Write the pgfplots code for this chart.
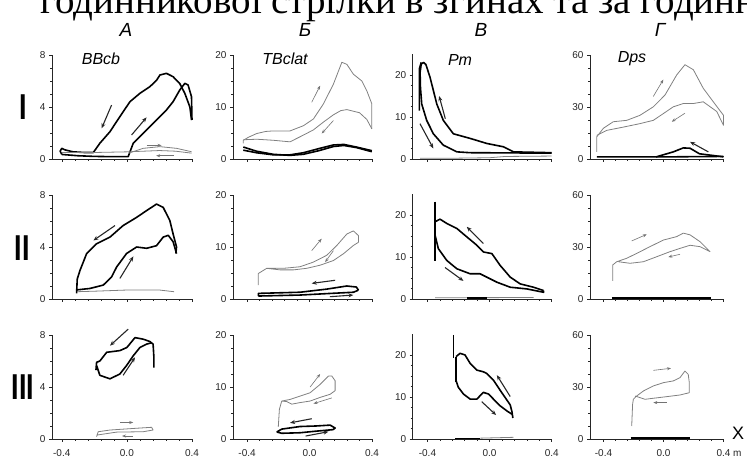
\documentclass[border=0pt]{standalone}
\usepackage{fontspec}
\setmainfont{Liberation Sans}
\newfontfamily\seriffont{Liberation Serif}
\usepackage{pgfplots}
\pgfplotsset{compat=1.18}
\usetikzlibrary{arrows.meta}
\pgfplotsset{
 panel/.style={
   scale only axis, anchor=south west,
   axis lines=left, axis line style={-, line width=0.7pt, black!85},
   tick align=outside, major tick length=3pt, minor tick length=2pt,
   every tick/.style={black!85, line width=0.5pt},
   xmax=0.4, xtick={-0.4,0,0.4}, minor x tick num=4,
   minor y tick num=3, ymin=0,
   ticklabel style={font=\fontsize{10}{10}\selectfont, text=black!85},
   xticklabel style={yshift=-4pt},
   /pgf/number format/assume math mode=true,
   xticklabel={\pgfmathprintnumber[fixed,fixed zerofill,precision=1]{\tick}},
   clip=false, height=104pt,
 },
 noxlab/.style={xticklabels={}},
 colA/.style={xmin=-0.46, width=140pt, ymax=8, ytick={0,4,8}},
 colB/.style={xmin=-0.49, width=139pt, ymax=20, ytick={0,10,20}},
 colC/.style={xmin=-0.495, width=139pt, ymax=25, ytick={0,10,20}, height=105pt},
 colD/.style={xmin=-0.49, width=133.5pt, ymax=60, ytick={0,30,60}},
 blk/.style={black, line width=1.6pt, no markers, line join=round},
 gry/.style={black!50, line width=0.8pt, no markers, line join=round},
 barr/.style={black!85, line width=1.1pt, -{Stealth[length=5pt,width=4pt]}, no markers},
 garr/.style={black!55, line width=0.6pt, -{Stealth[length=4pt,width=3pt]}, no markers},
}
\begin{document}
\begin{tikzpicture}
\path[use as bounding box] (0,0) rectangle (747pt,460pt);
% top text (cut)
\node[anchor=base west, inner sep=0pt, font=\seriffont\fontsize{39}{39}\selectfont] at (40pt,446pt) {годинникової стрілки в згинах та за годинниковою};
% column headers
\foreach \t/\x in {А/126,Б/305,В/481,Г/660}{
 \node[font=\fontsize{19}{19}\selectfont\itshape] at (\x pt,430pt) {\t};}
% row labels
\node[font=\fontsize{36}{36}\selectfont\bfseries, xscale=0.75] at (23pt,353pt) {I};
\node[font=\fontsize{36}{36}\selectfont\bfseries, xscale=0.75] at (22pt,212pt) {II};
\node[font=\fontsize{36}{36}\selectfont\bfseries, xscale=0.75] at (23pt,73pt) {III};
% panel names
\node[font=\fontsize{16}{16}\selectfont\itshape] at (101pt,401pt) {BBcb};
\node[font=\fontsize{16}{16}\selectfont\itshape] at (285pt,401pt) {TBclat};
\node[font=\fontsize{16}{16}\selectfont\itshape] at (460pt,400pt) {Pm};
\node[font=\fontsize{16}{16}\selectfont\itshape] at (632pt,401pt) {Dps};
\node[font=\fontsize{18}{18}\selectfont] at (738pt,27pt) {X};
\node[anchor=base west, inner sep=0pt, font=\fontsize{10}{10}\selectfont, text=black!85] at (733pt,3.5pt) {m};

% ===== Row I =====
\begin{axis}[panel, colA, noxlab, at={(52pt,301pt)}]
\addplot[blk] coordinates {(0.397,3.0) (0.387,4.0) (0.356,5.05) (0.325,5.8) (0.284,6.33) (0.243,6.59) (0.203,6.46) (0.182,6.05) (0.141,5.56) (0.08,5.05) (0.019,4.41) (-0.043,3.26) (-0.104,2.1) (-0.166,1.21) (-0.206,0.5) (-0.26,0.5) (-0.33,0.55) (-0.38,0.7) (-0.40,0.82) (-0.41,0.6) (-0.40,0.35)};
\addplot[blk] coordinates {(-0.40,0.35) (-0.3,0.25) (-0.2,0.2) (-0.1,0.18) (0.008,0.18) (0.039,1.21) (0.08,1.72) (0.121,2.23) (0.161,2.74) (0.203,3.26) (0.243,3.77) (0.284,4.41) (0.325,5.31) (0.356,5.82) (0.376,5.69) (0.397,4.79) (0.40,3.0)};
\addplot[gry] coordinates {(-0.40,0.5) (-0.2,0.5) (0.0,0.55) (0.2,0.65) (0.3,0.6) (0.397,0.45)};
\addplot[gry] coordinates {(0.008,0.44) (0.1,0.82) (0.203,0.95) (0.305,0.82) (0.397,0.56)};
\addplot[barr] coordinates {(-0.094,4.15) (-0.155,2.36)};
\addplot[barr] coordinates {(0.029,1.85) (0.121,3.2)};
\addplot[garr] coordinates {(0.121,1.05) (0.213,1.05)};
\addplot[garr] coordinates {(0.29,0.25) (0.18,0.25)};
\end{axis}

\begin{axis}[panel, colB, noxlab, at={(233pt,301pt)}]
\addplot[gry] coordinates {(-0.424,3.0) (-0.424,3.6) (-0.39,4.2) (-0.338,4.9) (-0.28,5.3) (-0.232,5.4) (-0.125,5.4) (-0.039,6.4) (0.025,7.7) (0.089,10.6) (0.153,14.4) (0.207,18.6) (0.239,18.2) (0.281,16.3) (0.335,15.0) (0.367,13.1) (0.399,10.6) (0.399,5.8)};
\addplot[gry] coordinates {(0.399,5.8) (0.367,7.6) (0.32,8.9) (0.239,9.5) (0.2,9.3) (0.153,8.5) (0.089,7.1) (0.025,5.6) (-0.039,4.6) (-0.125,3.3) (-0.232,3.6) (-0.338,3.8) (-0.424,3.7)};
\addplot[blk] coordinates {(-0.424,2.3) (-0.34,1.5) (-0.232,0.9) (-0.125,0.7) (-0.04,0.9) (0.06,1.6) (0.153,2.4) (0.22,2.6) (0.3,2.2) (0.399,1.4)};
\addplot[blk] coordinates {(-0.424,1.7) (-0.34,1.2) (-0.232,0.8) (-0.125,0.8) (-0.04,1.2) (0.06,2.0) (0.153,2.7) (0.22,2.8) (0.3,2.3) (0.399,1.6)};
\addplot[garr] coordinates {(0.014,10.9) (0.068,14.1)};
\addplot[garr] coordinates {(0.153,7.4) (0.078,4.9)};
\end{axis}

\begin{axis}[panel, colC, noxlab, at={(412.7pt,301pt)}]
\addplot[gry] coordinates {(-0.448,0.2) (-0.2,0.2) (0.0,0.3) (0.1,0.6) (0.4,0.7)};
\addplot[blk] coordinates {(0.40,1.5) (0.154,1.7) (0.09,2.9) (-0.018,3.7) (-0.125,4.9) (-0.233,6.0) (-0.298,9.2) (-0.34,13.1) (-0.383,19.4) (-0.41,22.5) (-0.425,23.0) (-0.44,22.6) (-0.448,20.5)};
\addplot[blk] coordinates {(-0.448,21.5) (-0.445,17) (-0.437,13.1) (-0.405,9.2) (-0.362,6.0) (-0.298,3.3) (-0.211,1.7) (-0.125,1.5) (0.40,1.4)};
\addplot[blk] coordinates {(-0.452,11.5) (-0.452,21.5) (-0.44,23)};
\addplot[barr] coordinates {(-0.285,9.6) (-0.325,15)};
\addplot[barr] coordinates {(-0.448,8.4) (-0.362,2.5)};
\end{axis}

\begin{axis}[panel, colD, noxlab, at={(590pt,301pt)}]
\addplot[gry] coordinates {(-0.445,4.1) (-0.445,12.8) (-0.401,17.7) (-0.335,21.5) (-0.245,22.3) (-0.157,25.2) (-0.068,30.1) (0.01,36.9) (0.088,48.5) (0.143,54.4) (0.199,51.5) (0.265,40.8) (0.332,33.0) (0.40,25.2) (0.40,19.4)};
\addplot[gry] coordinates {(0.40,19.4) (0.355,27.4) (0.265,33) (0.199,32) (0.132,32) (0.065,30.1) (-0.001,26.2) (-0.068,22.3) (-0.157,20.4) (-0.268,18.4) (-0.379,16.5) (-0.445,13.6)};
\addplot[blk] coordinates {(-0.445,1.2) (0.0,1.2) (0.4,1.5)};
\addplot[blk] coordinates {(-0.05,1.2) (0.065,4.1) (0.132,6.4) (0.177,6.2) (0.24,3.0) (0.332,2.0) (0.40,1.2)};
\addplot[barr] coordinates {(0.299,4.1) (0.177,9.9)};
\addplot[garr] coordinates {(-0.068,36.1) (-0.001,45.8)};
\addplot[garr] coordinates {(0.143,26.4) (0.055,21.5)};
\end{axis}

% ===== Row II =====
\begin{axis}[panel, colA, noxlab, at={(52pt,161pt)}]
\addplot[gry] coordinates {(-0.309,0.56) (-0.2,0.6) (0.0,0.69) (0.2,0.69) (0.29,0.56)};
\addplot[blk] coordinates {(-0.309,0.43) (-0.305,1.53) (-0.288,2.2) (-0.247,3.5) (-0.186,4.25) (-0.104,4.76) (-0.023,5.65) (0.06,6.28) (0.121,6.8) (0.182,7.3) (0.223,7.05) (0.264,6.03) (0.284,5.0) (0.305,4.0) (0.301,3.5)};
\addplot[blk] coordinates {(-0.309,0.7) (-0.227,0.81) (-0.145,1.07) (-0.094,1.7) (-0.063,2.46) (-0.002,3.5) (0.06,4.0) (0.121,3.9) (0.182,4.1) (0.223,4.76) (0.254,4.9) (0.284,4.4) (0.305,3.5)};
\addplot[barr] coordinates {(-0.073,5.65) (-0.206,4.5)};
\addplot[barr] coordinates {(-0.043,1.58) (0.04,3.28)};
\end{axis}

\begin{axis}[panel, colB, noxlab, at={(233pt,161pt)}]
\addplot[gry] coordinates {(-0.328,2.67) (-0.328,4.9) (-0.274,5.9) (-0.167,5.9) (-0.061,6.2) (0.025,7.1) (0.11,8.4) (0.175,10.3) (0.239,12.5) (0.281,13.1) (0.313,12.2) (0.313,10.9) (0.281,10.3) (0.217,8.7) (0.153,7.4) (0.068,6.5) (-0.018,5.9) (-0.103,5.6) (-0.189,5.6) (-0.274,5.9)};
\addplot[blk] coordinates {(-0.328,0.57) (-0.328,1.08) (-0.061,1.3) (0.11,1.9) (0.239,2.5) (0.30,2.3) (0.313,1.7)};
\addplot[blk] coordinates {(-0.328,0.57) (-0.061,0.76) (0.153,1.1) (0.281,1.3) (0.313,1.7)};
\addplot[barr] coordinates {(0.164,3.6) (0.014,3.0)};
\addplot[barr] coordinates {(0.13,0.44) (0.281,0.76)};
\addplot[garr] coordinates {(0.014,9.3) (0.078,11.6)};
\addplot[garr] coordinates {(0.153,9.3) (0.1,7.1)};
\end{axis}

\begin{axis}[panel, colC, noxlab, at={(412.7pt,161pt)}]
\addplot[gry] coordinates {(-0.351,0.3) (0.283,0.35)};
\addplot[blk] coordinates {(-0.147,0.2) (-0.018,0.2)};
\addplot[blk] coordinates {(-0.351,23.2) (-0.351,9.16)};
\addplot[blk] coordinates {(-0.351,18.4) (-0.319,19.0) (-0.276,18.0) (-0.211,16.8) (-0.147,14.8) (-0.082,12.8) (-0.04,11.2) (0.015,10.8) (0.068,8.0) (0.133,5.2) (0.197,3.6) (0.283,2.8) (0.348,2.0)};
\addplot[blk] coordinates {(-0.351,15.2) (-0.33,12.0) (-0.276,9.2) (-0.211,7.2) (-0.125,6.0) (-0.061,6.0) (-0.018,5.2) (0.047,4.0) (0.133,2.8) (0.24,2.4) (0.348,1.6) (0.348,2.0)};
\addplot[barr] coordinates {(-0.04,13.2) (-0.147,17.2)};
\addplot[barr] coordinates {(-0.287,7.5) (-0.168,4.3)};
\end{axis}

\begin{axis}[panel, colD, noxlab, at={(590pt,161pt)}]
\addplot[blk] coordinates {(-0.345,0.5) (0.315,0.5)};
\addplot[gry] coordinates {(-0.339,10.4) (-0.339,19.6) (-0.312,21.5) (-0.245,23.5) (-0.179,26.3) (-0.09,30.2) (-0.001,34) (0.088,36) (0.132,38) (0.177,37) (0.243,33.1) (0.31,27.3) (0.243,30.2) (0.177,31) (0.11,29.2) (0.043,27.3) (-0.045,24.4) (-0.134,21.5) (-0.223,20.6) (-0.301,21.5)};
\addplot[garr] coordinates {(-0.212,33.5) (-0.112,37.3)};
\addplot[garr] coordinates {(0.11,25.8) (0.032,24.2)};
\end{axis}

% ===== Row III =====
\begin{axis}[panel, colA, at={(52pt,21pt)}]
\addplot[gry] coordinates {(-0.186,0.18) (-0.176,0.56) (-0.104,0.69) (0.039,0.81) (0.152,0.9) (0.161,0.69) (0.1,0.56) (-0.063,0.53) (-0.186,0.3)};
\addplot[blk] coordinates {(-0.19,5.3) (-0.186,5.9) (-0.166,6.0) (-0.124,6.67) (-0.043,6.8) (0.0,7.04) (0.05,7.8) (0.1,7.68) (0.141,7.5) (0.161,7.3) (0.166,6.28) (0.166,5.5)};
\addplot[blk] coordinates {(-0.186,5.65) (-0.166,4.9) (-0.104,4.63) (-0.043,5.0) (-0.002,5.65) (0.039,6.4) (0.08,7.04) (0.121,7.3) (0.152,7.4)};
\addplot[barr] coordinates {(0.008,8.45) (-0.104,7.18)};
\addplot[barr] coordinates {(-0.023,4.9) (0.05,6.28)};
\addplot[garr] coordinates {(-0.043,1.27) (0.039,1.27)};
\addplot[garr] coordinates {(0.039,0.23) (-0.03,0.23)};
\end{axis}

\begin{axis}[panel, colB, at={(233pt,21pt)}]
\addplot[gry] coordinates {(-0.2,2.35) (-0.193,5.7) (-0.178,7.3) (-0.125,7.6) (-0.061,8.25) (0.004,8.9) (0.068,10.5) (0.121,12.1) (0.143,12.1) (0.164,11.2) (0.164,9.3) (0.132,8.6) (0.068,8.0) (0.004,7.3) (-0.061,7.0) (-0.114,6.7) (-0.146,7.2) (-0.178,7.3)};
\addplot[blk] coordinates {(-0.21,1.35) (-0.178,1.9) (-0.061,2.4) (0.04,2.5) (0.132,2.67) (0.164,2.1) (0.15,1.8) (0.04,1.5) (-0.061,1.2) (-0.178,1.1) (-0.21,1.35)};
\addplot[barr] coordinates {(0.014,3.9) (-0.125,3.1)};
\addplot[barr] coordinates {(-0.025,0.57) (0.121,1.4)};
\addplot[garr] coordinates {(0.004,10.0) (0.068,12.5)};
\addplot[garr] coordinates {(0.143,7.9) (0.025,6.8)};
\end{axis}

\begin{axis}[panel, colC, at={(412.7pt,21pt)}]
\addplot[blk] coordinates {(-0.22,0.15) (-0.06,0.15)};
\addplot[gry] coordinates {(-0.06,0.2) (0.154,0.4)};
\addplot[blk] coordinates {(-0.233,24.8) (-0.233,19.2)};
\addplot[blk] coordinates {(-0.216,19.6) (-0.216,13.6)};
\addplot[blk] coordinates {(-0.216,19.6) (-0.19,20.4) (-0.158,20.0) (-0.125,18.0) (-0.082,16.4) (-0.04,16.0) (-0.018,15.6) (0.025,14.0) (0.068,11.6) (0.111,9.3) (0.133,8.1) (0.144,6.5) (0.15,5.0)};
\addplot[blk] coordinates {(-0.216,13.9) (-0.201,12.3) (-0.168,10.7) (-0.125,9.5) (-0.082,9.5) (-0.04,11.1) (-0.007,10.7) (0.025,9.5) (0.068,7.9) (0.111,6.7) (0.144,5.9)};
\addplot[barr] coordinates {(0.133,10.1) (0.047,15.2)};
\addplot[barr] coordinates {(-0.051,8.9) (0.042,5.7)};
\end{axis}

\begin{axis}[panel, colD, at={(590pt,21pt)}]
\addplot[blk] coordinates {(-0.22,0.5) (0.175,0.5)};
\addplot[gry] coordinates {(-0.212,7.5) (-0.206,20.0) (-0.201,22.9) (-0.179,24.8) (-0.134,27.7) (-0.068,30.6) (-0.001,32.5) (0.065,33.5) (0.11,35.4) (0.143,39.2) (0.165,37.3) (0.172,32.5) (0.172,26.7) (0.11,25.4) (-0.001,24.2) (-0.068,23.5) (-0.123,22.9) (-0.157,23.9) (-0.19,24.8)};
\addplot[garr] coordinates {(-0.068,39.6) (0.05,40.8)};
\addplot[garr] coordinates {(0.021,21) (-0.068,21)};
\end{axis}
\end{tikzpicture}
\end{document}
